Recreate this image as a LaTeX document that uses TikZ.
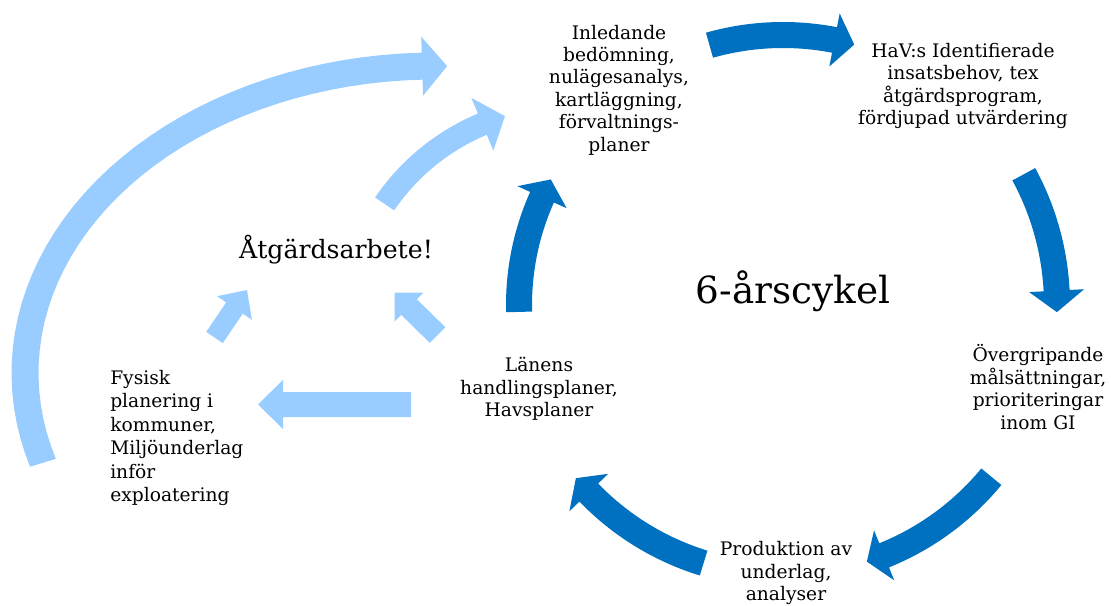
\documentclass[tikz,border=0pt]{standalone}
\usepackage{fontspec}
\setmainfont{DejaVu Serif}
\definecolor{cycblue}{HTML}{0070C0}
\definecolor{sideblue}{HTML}{99CCFF}
% cx cy rx ry a1 a2 a3 w hw : block arrow along an elliptic arc
\newcommand\arcarrow[9]{%
 plot[domain=#5:#6,samples=40] ({#1+(#3+#8/2)*cos(\x)},{#2+(#4+#8/2)*sin(\x)})
 -- ({#1+(#3+#9/2)*cos(#6)},{#2+(#4+#9/2)*sin(#6)})
 -- ({#1+#3*cos(#7)},{#2+#4*sin(#7)})
 -- ({#1+(#3-#9/2)*cos(#6)},{#2+(#4-#9/2)*sin(#6)})
 -- plot[domain=#6:#5,samples=40] ({#1+(#3-#8/2)*cos(\x)},{#2+(#4-#8/2)*sin(\x)})
 -- cycle}
\tikzset{
  lbl/.style={align=center,inner sep=0pt,font=\fontsize{14}{16.8}\selectfont},
  lbll/.style={align=left,inner sep=0pt,font=\fontsize{14}{17.6}\selectfont},
  cycarrow/.style={fill=cycblue},
  sidearrow/.style={fill=sideblue}
}
\begin{document}
\begin{tikzpicture}[x=0.75pt,y=-0.75pt]
\useasboundingbox (0,0) rectangle (1111,606);
% cycle arrows
\fill[cycarrow] \arcarrow{783}{305}{270}{270}{-105.8}{-79}{-74.7}{26}{54};
\fill[cycarrow] \arcarrow{783}{305}{274}{274}{-28.5}{-3}{1.5}{26}{55};
\fill[cycarrow] \arcarrow{783}{305}{270}{270}{39.5}{68}{71.9}{26}{54};
\fill[cycarrow] \arcarrow{783}{305}{270}{270}{107.1}{136}{140.1}{26}{54};
\fill[cycarrow] \arcarrow{783}{305}{264}{264}{178.5}{204.1}{208.4}{26}{54};
% side arrows
\fill[sidearrow] \arcarrow{435}{373}{410}{307}{163}{268.2}{271.7}{27}{59};
\fill[sidearrow] \arcarrow{568}{329}{222}{222}{-145.7}{-112.7}{-106.5}{23}{57};
\fill[sidearrow] (222.8,343.1) -- (206.2,331.9) -- (226.2,302.4) -- (217.1,296.2)
  -- (247,290) -- (251.9,319.8) -- (242.8,313.6) -- cycle;
\fill[sidearrow] (445.3,327.2) -- (429.7,342.8) -- (401.2,314.8) -- (394.5,321.5)
  -- (394.5,292.5) -- (423.5,292.5) -- (416.8,299.2) -- cycle;
\fill[sidearrow] (411,392) -- (283,392) -- (283,380) -- (258,404.5) -- (283,429)
  -- (283,417) -- (411,417) -- cycle;
% labels
\node[lbl] (inl) at (619,90) {Inledande\\bedömning,\\nulägesanalys,\\kartläggning,\\förvaltnings-\\planer};
\node[lbl] (hav) at (963,86) {HaV:s Identifierade\\insatsbehov, tex\\åtgärdsprogram,\\fördjupad utvärdering};
\node[lbl] (overg) at (1038,387) {Övergripande\\målsättningar,\\prioriteringar\\inom GI};
\node[lbl] (prod) at (786,573) {Produktion av\\underlag,\\analyser};
\node[lbl] (lan) at (539,389) {Länens\\handlingsplaner,\\Havsplaner};
\node[lbll,anchor=west] (fys) at (110,438) {Fysisk\\planering i\\kommuner,\\Miljöunderlag\\inför\\exploatering};
\node[inner sep=0pt,font=\fontsize{18.9}{22}\selectfont] (atg) at (336,250) {Åtgärdsarbete!};
\node[inner sep=0pt,font=\fontsize{28}{32}\selectfont] (cyk) at (793,291) {6-årscykel};
\end{tikzpicture}
\end{document}
